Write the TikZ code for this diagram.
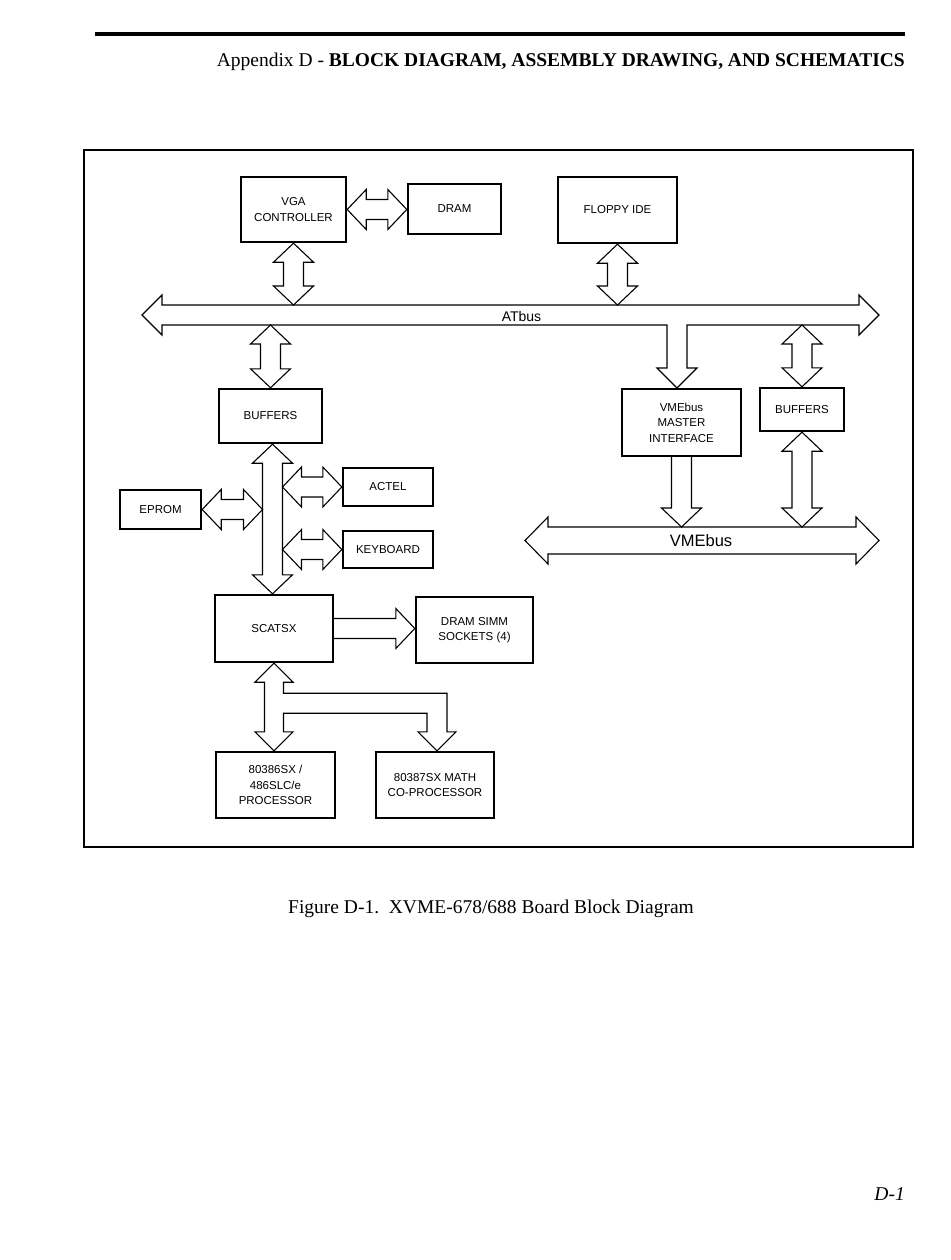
\documentclass[tikz,border=0pt]{standalone}
\usepackage{fontspec}
\setmainfont{Liberation Serif}
\setsansfont{Liberation Sans}
\usetikzlibrary{calc}

\tikzset{
  blk/.style={draw, line width=2.4pt, inner sep=0pt, align=center,
    font=\sffamily\fontsize{11.5}{15.5}\selectfont},
  barr/.style={line width=1.1pt, line join=miter},
  busl/.style={font=\sffamily\fontsize{14}{16}\selectfont, inner sep=0pt},
}

% block arrows: vertical double (top,bottom), horizontal double (left,right),
% single right (from,to), single down (from,to)
\newcommand{\vdarr}[2]{\draw[barr] let \p1=(#1), \p2=(#2) in
  (\x1,\y1) -- (\x1+20pt,\y1-19pt) -- (\x1+10pt,\y1-19pt) -- (\x1+10pt,\y2+19pt)
  -- (\x1+20pt,\y2+19pt) -- (\x1,\y2) -- (\x1-20pt,\y2+19pt) -- (\x1-10pt,\y2+19pt)
  -- (\x1-10pt,\y1-19pt) -- (\x1-20pt,\y1-19pt) -- cycle;}
\newcommand{\hdarr}[2]{\draw[barr] let \p1=(#1), \p2=(#2) in
  (\x1,\y1) -- (\x1+19pt,\y1+20pt) -- (\x1+19pt,\y1+10pt) -- (\x2-19pt,\y1+10pt)
  -- (\x2-19pt,\y1+20pt) -- (\x2,\y1) -- (\x2-19pt,\y1-20pt) -- (\x2-19pt,\y1-10pt)
  -- (\x1+19pt,\y1-10pt) -- (\x1+19pt,\y1-20pt) -- cycle;}
\newcommand{\hsarr}[2]{\draw[barr] let \p1=(#1), \p2=(#2) in
  (\x1,\y1+10pt) -- (\x2-19pt,\y1+10pt) -- (\x2-19pt,\y1+20pt) -- (\x2,\y1)
  -- (\x2-19pt,\y1-20pt) -- (\x2-19pt,\y1-10pt) -- (\x1,\y1-10pt);}
\newcommand{\vsarr}[2]{\draw[barr] let \p1=(#1), \p2=(#2) in
  (\x1-10pt,\y1) -- (\x1-10pt,\y2+19pt) -- (\x1-20pt,\y2+19pt) -- (\x1,\y2)
  -- (\x1+20pt,\y2+19pt) -- (\x1+10pt,\y2+19pt) -- (\x1+10pt,\y1);}

\begin{document}
\begin{tikzpicture}[x=1pt,y=-1pt]
\useasboundingbox (0,0) rectangle (950,1260);

% Header
\draw [line width=4.5pt] (95,34) -- (905,34) ;
\node [anchor=base east, inner sep=0pt, font=\fontsize{19.5}{24}\selectfont] (hdr) at (905,67)
  {Appendix D - \textbf{BLOCK DIAGRAM, ASSEMBLY DRAWING, AND SCHEMATICS}};

% Frame
\draw [line width=1.2pt] (84,150) rectangle (913,847) ;

% Blocks
\node [blk, minimum width=105pt, minimum height=65pt] (vga) at (293.5,209.5) {VGA\\CONTROLLER};
\node [blk, minimum width=93pt, minimum height=50pt] (dram) at (454.5,209) {DRAM};
\node [blk, minimum width=119pt, minimum height=66pt] (floppy) at (617.5,210) {FLOPPY IDE};
\node [blk, minimum width=103pt, minimum height=54pt] (bufl) at (270.5,416) {BUFFERS};
\node [blk, minimum width=119pt, minimum height=67pt] (vmem) at (681.5,422.5) {VMEbus\\MASTER\\INTERFACE};
\node [blk, minimum width=84pt, minimum height=43pt] (bufr) at (802,409.5) {BUFFERS};
\node [blk, minimum width=81pt, minimum height=39pt] (eprom) at (160.5,509.5) {EPROM};
\node [blk, minimum width=90pt, minimum height=38pt] (actel) at (388,487) {ACTEL};
\node [blk, minimum width=90pt, minimum height=37pt] (kbd) at (388,549.5) {KEYBOARD};
\node [blk, minimum width=118pt, minimum height=67pt] (scatsx) at (274,628.5) {SCATSX};
\node [blk, minimum width=117pt, minimum height=66pt] (simm) at (474.5,630) {DRAM SIMM\\SOCKETS (4)};
\node [blk, minimum width=119pt, minimum height=66pt] (cpu) at (275.5,785) {80386SX /\\486SLC/e\\PROCESSOR};
\node [blk, minimum width=118pt, minimum height=66pt] (fpu) at (435,785) {80387SX MATH\\CO-PROCESSOR};

% bus edges
\coordinate (atT) at (0,305);
\coordinate (atB) at (0,325);
\coordinate (vbT) at (0,527);
\coordinate (mb) at (272.5,0);

% ATbus with branch to VMEbus master
\draw [barr] (142,315) -- (162,295) -- (162,305) -- (859,305) -- (859,295) -- (879,315)
  -- (859,335) -- (859,325) -- (687,325) -- (687,368) -- (697,368) -- (677,388)
  -- (657,368) -- (667,368) -- (667,325) -- (162,325) -- (162,335) -- cycle ;
\node [busl] (atlbl) at (521.5,316) {ATbus};

% VMEbus
\draw [barr] (525,540.5) -- (548,517) -- (548,527) -- (856,527) -- (856,517) -- (879,540.5)
  -- (856,564) -- (856,554) -- (548,554) -- (548,564) -- cycle ;
\node [busl, font=\sffamily\fontsize{16.5}{18}\selectfont] (vblbl) at (701,540.5) {VMEbus};

% Connectors
\hdarr{vga.east}{dram.west}
\vdarr{vga.south}{vga.south |- atT}
\vdarr{floppy.south}{floppy.south |- atT}
\vdarr{bufl.north |- atB}{bufl.north}
\vdarr{bufr.north |- atB}{bufr.north}
\vdarr{mb |- bufl.south}{mb |- scatsx.north}
\hdarr{eprom.east}{$(eprom.east -| mb)+(-10,0)$}
\hdarr{$(actel.west -| mb)+(10,0)$}{actel.west}
\hdarr{$(kbd.west -| mb)+(10,0)$}{kbd.west}
\vsarr{vmem.south}{vmem.south |- vbT}
\vdarr{bufr.south}{bufr.south |- vbT}
\hsarr{scatsx.east}{simm.west}

% SCATSX to processor and co-processor
\draw [barr] let \p1=(scatsx.south), \p2=(cpu.north), \p3=(fpu.north) in
  (\x1,\y1) -- (\x1+19pt,\y1-19pt) -- (\x1+9.5pt,\y1-19pt) -- (\x1+9.5pt,\y1-30pt)
  -- (\x3+12pt,\y1-30pt) -- (\x3+12pt,\y3+19pt) -- (\x3+21pt,\y3+19pt) -- (\x3+2pt,\y3)
  -- (\x3-17pt,\y3+19pt) -- (\x3-8pt,\y3+19pt) -- (\x3-8pt,\y1-50pt) -- (\x1+9.5pt,\y1-50pt)
  -- (\x1+9.5pt,\y2+19pt) -- (\x1+19pt,\y2+19pt) -- (\x1,\y2) -- (\x1-19pt,\y2+19pt)
  -- (\x1-9.5pt,\y2+19pt) -- (\x1-9.5pt,\y1-19pt) -- (\x1-19pt,\y1-19pt) -- cycle ;

% Caption and page number
\node [anchor=base, inner sep=0pt, font=\fontsize{19.5}{24}\selectfont] (cap) at (491,913)
  {Figure D-1.\ \ XVME-678/688 Board Block Diagram};
\node [anchor=base east, inner sep=0pt, font=\itshape\fontsize{19.5}{24}\selectfont] (pg) at (905,1200) {D-1};

\end{tikzpicture}
\end{document}
